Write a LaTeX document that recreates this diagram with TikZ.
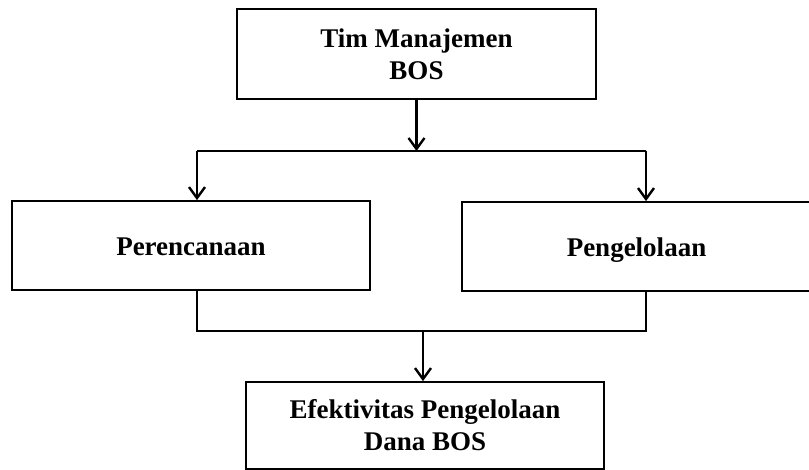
\documentclass[tikz,border=0pt]{standalone}
\usepackage{fontspec}
\setmainfont{Liberation Serif}
\usetikzlibrary{arrows.meta}
\begin{document}
\begin{tikzpicture}[x=1pt,y=-1pt,
  box/.style={draw=black, line width=1.8pt, fill=white, inner sep=0pt, align=center,
    font=\fontsize{27}{32}\selectfont\bfseries},
  oneline/.style={text height=22.5pt, text depth=1.5pt},
  conn/.style={draw=black, line width=2.6pt},
  arr/.style={conn, -{Straight Barb[length=11pt,width=16pt,line width=2.4pt]}}]
\useasboundingbox (0,0) rectangle (809,470);
\fill[white] (0,0) rectangle (809,470);
\node[box, minimum width=359pt, minimum height=90pt] (top) at (416.5,54) {Tim Manajemen\\BOS};
\node[box, oneline, minimum width=358pt, minimum height=89pt] (left) at (191,245.5) {Perencanaan};
\node[box, oneline, minimum width=349pt, minimum height=89pt] (right) at (636.5,246.5) {Pengelolaan};
\node[box, minimum width=358pt, minimum height=87pt] (bottom) at (425,425.5) {Efektivitas Pengelolaan\\Dana BOS};
\coordinate (lj) at (197,151);
\coordinate (rj) at (646,151);
\coordinate (lb) at (197,331);
\coordinate (rb) at (646,331);
\coordinate (mb) at (423,331);
\draw[arr] (top.south) -- (top.south |- lj);
\draw[conn] (lj) -- (rj);
\draw[arr] (lj) -- (lj |- left.north);
\draw[arr] (rj) -- (rj |- right.north);
\draw[conn] (lb |- left.south) -- (lb) -- (rb) -- (rb |- right.south);
\draw[arr] (mb) -- (mb |- bottom.north);
\end{tikzpicture}
\end{document}
